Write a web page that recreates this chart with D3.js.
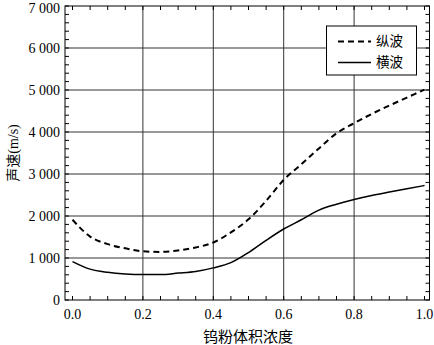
<!DOCTYPE html>
<html>
<head>
<meta charset="utf-8">
<script src="https://cdn.jsdelivr.net/npm/d3@7"></script>
<style>
  html, body { margin: 0; padding: 0; background: #fff; }
  svg { display: block; }
  text { font-family: "Liberation Serif", "Noto Sans CJK SC", serif; fill: #000; }
</style>
</head>
<body>
<svg id="chart" width="434" height="345"></svg>
<script>
// Tungsten powder volume fraction
const fractions = [0, 0.05, 0.1, 0.15, 0.2, 0.25, 0.3, 0.35, 0.4, 0.45, 0.5,
                   0.55, 0.6, 0.65, 0.7, 0.75, 0.8, 0.85, 0.9, 0.95, 1.0];
// Longitudinal wave speed (m/s)
const longitudinal = [1910, 1510, 1330, 1230, 1160, 1145, 1180, 1250, 1370, 1610, 1920,
                      2360, 2860, 3230, 3610, 3970, 4210, 4430, 4630, 4820, 5010];
// Transverse wave speed (m/s)
const transverse = [915, 735, 660, 620, 605, 605, 640, 680, 765, 890, 1130,
                    1420, 1690, 1910, 2140, 2280, 2395, 2490, 2570, 2650, 2725];

const xTicks = [0, 0.2, 0.4, 0.6, 0.8, 1.0];
const yTicks = [0, 1000, 2000, 3000, 4000, 5000, 6000, 7000];
const seriesNames = ["纵波", "横波"];
const xTitle = "钨粉体积浓度";
const yTitle = "声速(m/s)";

const svg = d3.select("#chart");
const frame = { left: 65, right: 429.5, top: 6, bottom: 300 };

const x = d3.scaleLinear().domain([0, 1]).range([72.5, 424.5]);
const y = d3.scaleLinear().domain([0, 7000]).range([frame.bottom, frame.top]);

const fmtY = v => d3.format(",")(v).replace(/,/g, " ");
const fmtX = d3.format(".1f");

// grid lines
const grid = svg.append("g").attr("stroke", "#333").attr("stroke-width", 1);
grid.selectAll("line.gx").data(xTicks.filter(v => v > 0 && v < 1)).join("line")
  .attr("x1", d => x(d)).attr("x2", d => x(d))
  .attr("y1", frame.top).attr("y2", frame.bottom);
grid.selectAll("line.gy").data(yTicks.filter(v => v > 0 && v < 7000)).join("line")
  .attr("x1", frame.left).attr("x2", frame.right)
  .attr("y1", d => y(d)).attr("y2", d => y(d));

// minor ticks, pointing inward on all four sides
const xMinor = d3.range(0, 1.0001, 0.05);
const yMinor = d3.range(0, 7001, 200);
const ticks = svg.append("g").attr("stroke", "#000").attr("stroke-width", 1);
ticks.selectAll("line.bt").data(xMinor).join("line")
  .attr("x1", d => x(d)).attr("x2", d => x(d))
  .attr("y1", frame.bottom).attr("y2", frame.bottom - 4);
ticks.selectAll("line.tt").data(xMinor).join("line")
  .attr("x1", d => x(d)).attr("x2", d => x(d))
  .attr("y1", frame.top).attr("y2", frame.top + 4);
ticks.selectAll("line.lt").data(yMinor).join("line")
  .attr("x1", frame.left).attr("x2", frame.left + 4)
  .attr("y1", d => y(d)).attr("y2", d => y(d));
ticks.selectAll("line.rt").data(yMinor).join("line")
  .attr("x1", frame.right).attr("x2", frame.right - 4)
  .attr("y1", d => y(d)).attr("y2", d => y(d));

// frame
svg.append("rect")
  .attr("x", frame.left).attr("y", frame.top)
  .attr("width", frame.right - frame.left).attr("height", frame.bottom - frame.top)
  .attr("fill", "none").attr("stroke", "#000").attr("stroke-width", 1);

// tick labels (the topmost one is nudged down to stay inside the page)
svg.append("g").selectAll("text").data(yTicks).join("text")
  .attr("x", 60).attr("y", d => Math.max(y(d), 8.5)).attr("dy", "0.35em")
  .attr("text-anchor", "end").attr("font-size", 14)
  .text(fmtY);
svg.append("g").selectAll("text").data(xTicks).join("text")
  .attr("x", d => x(d)).attr("y", 314).attr("dy", "0.35em")
  .attr("text-anchor", "middle").attr("font-size", 14)
  .text(fmtX);

// axis titles
svg.append("text")
  .attr("x", 248).attr("y", 337).attr("dy", "0.35em")
  .attr("text-anchor", "middle").attr("font-size", 15)
  .text(xTitle);
svg.append("text")
  .attr("transform", `translate(13,${(frame.top + frame.bottom) / 2}) rotate(-90)`)
  .attr("dy", "0.35em")
  .attr("text-anchor", "middle").attr("font-size", 14)
  .text(yTitle);

// curves
const line = d3.line().curve(d3.curveMonotoneX)
  .x((d, i) => x(fractions[i])).y(d => y(d));
svg.append("path").datum(longitudinal)
  .attr("d", line).attr("fill", "none").attr("stroke", "#000")
  .attr("stroke-width", 2).attr("stroke-dasharray", "6,4");
svg.append("path").datum(transverse)
  .attr("d", line).attr("fill", "none").attr("stroke", "#000")
  .attr("stroke-width", 1.5);

// legend
const lg = svg.append("g");
lg.append("rect").attr("x", 326.5).attr("y", 26).attr("width", 90).attr("height", 49)
  .attr("fill", "#fff").attr("stroke", "#000").attr("stroke-width", 1);
const styles = [{ dash: "6,4", w: 2 }, { dash: null, w: 1.5 }];
seriesNames.forEach((name, i) => {
  const yy = 41.5 + i * 21;
  lg.append("line").attr("x1", 338).attr("x2", 371).attr("y1", yy).attr("y2", yy)
    .attr("stroke", "#000").attr("stroke-width", styles[i].w)
    .attr("stroke-dasharray", styles[i].dash);
  lg.append("text").attr("x", 376).attr("y", yy).attr("dy", "0.35em")
    .attr("font-size", 13.5).text(name);
});
</script>
</body>
</html>
